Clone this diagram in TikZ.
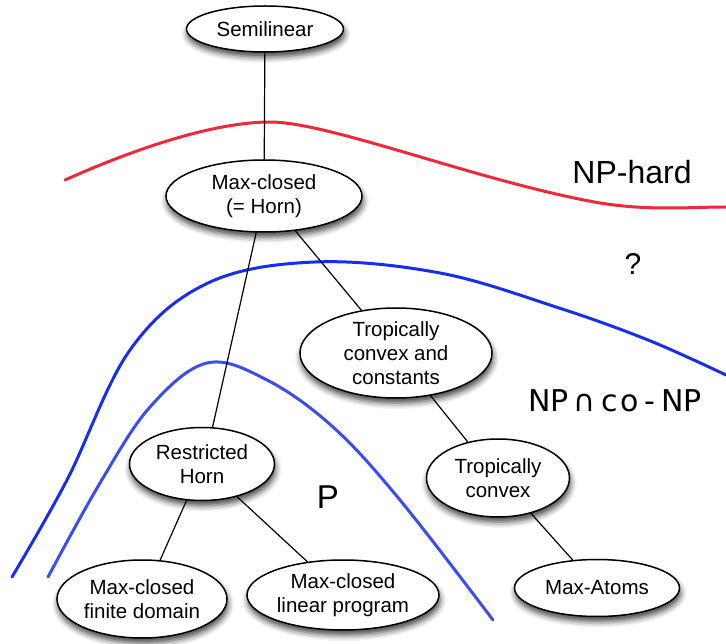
\documentclass[tikz,border=0pt]{standalone}
\usepackage{fontspec}
\setmainfont{Liberation Sans}
\newfontfamily\capfont{DejaVu Sans}
\usetikzlibrary{shapes.geometric, shadows.blur}

\tikzset{
	class/.style = {ellipse, draw, line width = 1.5pt, fill = white, inner sep = 0pt, align = center,
		font = \fontsize{20.5}{24}\selectfont,
		blur shadow = {shadow xshift = 1pt, shadow yshift = -5pt, shadow blur radius = 6pt, shadow opacity = 75}},
	link/.style = {line width = 1.2pt},
	frontier/.style = {line width = 3pt, line cap = round},
	region/.style = {inner sep = 0pt}
}

\definecolor{hardred}{RGB}{240, 40, 60}
\definecolor{polyblue}{RGB}{25, 45, 240}

\begin{document}
\begin{tikzpicture}[x = 1pt, y = -1pt]

	\useasboundingbox (0, 0) rectangle (726, 644);

	% Frontiers

	\draw [frontier, hardred] (65, 180) .. controls (150, 142) and (222, 122) .. (270, 122)
		.. controls (330, 122) and (480, 182) .. (600, 203)
		.. controls (650, 211) and (690, 207) .. (726, 207);
	\draw [frontier, polyblue] plot [smooth, tension = 0.6] coordinates {(12, 577) (67, 480) (130, 350) (208, 283) (315, 262) (440, 273) (556, 307) (648, 340) (726, 375)};
	\draw [frontier, polyblue!85!white] plot [smooth, tension = 0.6] coordinates {(48, 577) (100, 483) (150, 407) (207, 363) (267, 380) (333, 427) (400, 500) (493, 620)};

	% Classes

	\node [class, minimum width = 157, minimum height = 46] (semilin) at (265, 29) {Semilinear};
	\node [class, minimum width = 196, minimum height = 72] (maxclosed) at (264, 196) {Max-closed\\(= Horn)};
	\node [class, minimum width = 192, minimum height = 90] (tropconst) at (396, 353) {Tropically\\convex and\\constants};
	\node [class, minimum width = 145, minimum height = 73] (resthorn) at (202, 464) {Restricted\\Horn};
	\node [class, minimum width = 143, minimum height = 78] (tropconv) at (498, 478) {Tropically\\convex};
	\node [class, minimum width = 170, minimum height = 78] (finitedom) at (142, 599) {Max-closed\\finite domain};
	\node [class, minimum width = 192, minimum height = 70] (linprog) at (343, 595) {Max-closed\\linear program};
	\node [class, minimum width = 165, minimum height = 57] (maxatoms) at (597, 588) {Max-Atoms};

	% Inclusions

	\draw [link] (semilin) -- (maxclosed);
	\draw [link] (maxclosed.-102) -- (resthorn.74);
	\draw [link] (maxclosed.-48) -- (tropconst.129);
	\draw [link] (tropconst.-51) -- (tropconv.130);
	\draw [link] (tropconv.-47) -- (maxatoms.131);
	\draw [link] (resthorn.-113) -- (finitedom.65);
	\draw [link] (resthorn.-43) -- (linprog.137);

	% Complexity regions

	\node [region, font = \fontsize{32}{36}\selectfont] (nphard) at (632, 172) {NP-hard};
	\node [region, font = \fontsize{30}{34}\selectfont] (unknown) at (633, 264) {?};
	\node [region, anchor = west, font = \capfont\fontsize{30}{34}\selectfont] (npconp) at (528, 401) {NP\hspace{5pt}∩\hspace{6pt}c\hspace{2pt}o\hspace{6pt}-\hspace{6pt}NP};
	\node [region, font = \fontsize{33}{36}\selectfont] (ptime) at (328, 497) {P};

\end{tikzpicture}
\end{document}
